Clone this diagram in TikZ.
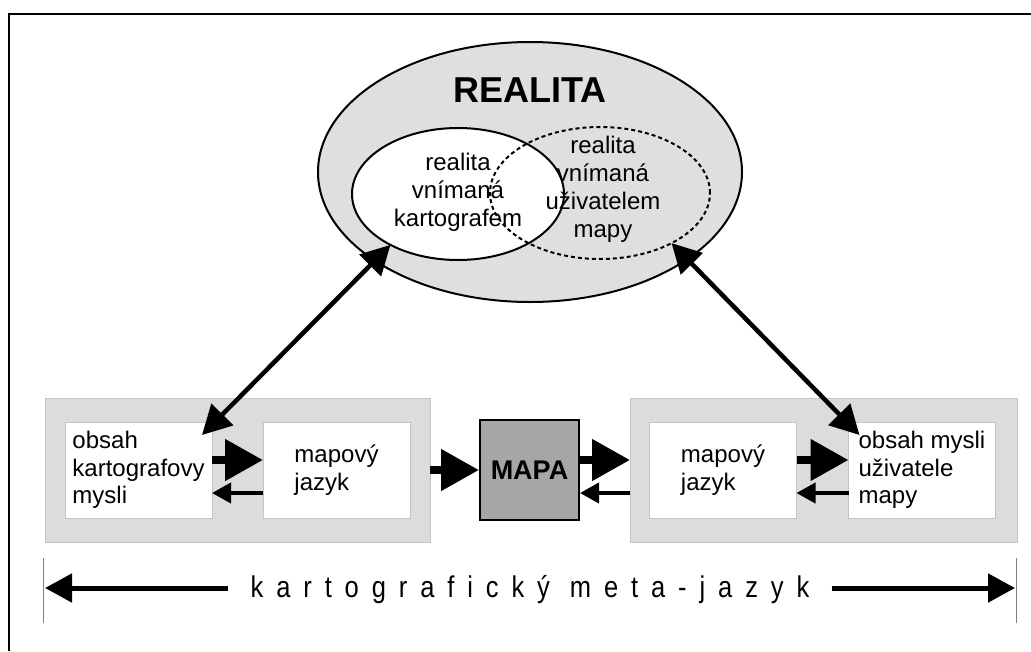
\documentclass[tikz,border=0pt]{standalone}
\usepackage{fontspec}
\setmainfont{Liberation Sans}
\newfontfamily\metafont[LetterSpace=43,FakeStretch=0.85]{Liberation Sans}
\usetikzlibrary{shapes.geometric,arrows.meta}
\definecolor{boxgray}{HTML}{DCDCDC}
\definecolor{edgegray}{HTML}{C4C4C4}
\definecolor{ellgray}{HTML}{DFDFDF}
\definecolor{mapgray}{HTML}{A6A6A6}

\begin{document}
\begin{tikzpicture}[
  x=1pt, y=-1pt,
  txt/.style={font=\fontsize{24}{28}\selectfont, align=center, inner sep=0pt},
  oval/.style={ellipse, draw, line width=2pt, inner sep=0pt, outer sep=0pt},
  graybox/.style={draw=edgegray, fill=boxgray, line width=1pt,
    minimum height=144pt, inner sep=0pt, outer sep=0pt},
  whitebox/.style={draw=edgegray, fill=white, line width=0.8pt,
    minimum width=147pt, minimum height=96pt, inner sep=0pt, outer sep=0pt,
    align=left, font=\fontsize{24}{27.6}\selectfont},
  bigarr/.style={line width=8pt, -{Triangle[length=38pt,width=40pt]}},
  backarr/.style={line width=4pt, -{Triangle[length=19pt,width=20pt]}},
  dblarr/.style={line width=4.5pt,
    {Triangle[length=29pt,width=30pt]}-{Triangle[length=29pt,width=30pt]}},
  metaarr/.style={line width=5pt, -{Triangle[length=27pt,width=28pt]}},
]
\useasboundingbox (0,0) rectangle (1031,651);
\draw[line width=2.5pt] (9,651) -- (9,14) -- (1031,14);

\node[oval, fill=ellgray, minimum width=424pt, minimum height=260pt] (real) at (530,172) {};
\node[oval, fill=white, minimum width=212pt, minimum height=132pt] (kart) at (458,194) {};
\node[oval, dash pattern=on 4pt off 3pt, minimum width=220pt, minimum height=132pt] (user) at (600,193) {};
\node[font=\bfseries\fontsize{36}{36}\selectfont] (title) at (530,90) {REALITA};
\node[txt] (kartlbl) at (458,192) {realita\\vnímaná\\kartografem};
\node[txt] (userlbl) at (603,189) {realita\\vnímaná\\uživatelem\\mapy};

\node[graybox, minimum width=385pt] (grayL) at (237.5,470) {};
\node[graybox, minimum width=387pt] (grayR) at (823.5,470) {};
\node[whitebox] (obs1) at (138.5,470) {obsah\\kartografovy\\mysli};
\node[whitebox] (jaz1) at (336.5,470) {mapový\\jazyk};
\node[whitebox] (jaz2) at (723,470) {mapový\\jazyk};
\node[whitebox] (obs2) at (922,470) {obsah mysli\\uživatele\\mapy};
\node[draw, line width=2pt, fill=mapgray, minimum width=99pt, minimum height=100pt,
  inner sep=0pt, font=\bfseries\fontsize{27}{27}\selectfont] (mapa) at (529.5,470) {MAPA};

\draw[bigarr] ([yshift=10pt]obs1.east) -- ([yshift=10pt]jaz1.west);
\draw[backarr] ([yshift=-23pt]jaz1.west) -- ([yshift=-23pt]obs1.east);
\draw[bigarr] (grayL.east) -- (mapa.west);
\draw[bigarr] ([yshift=10pt]mapa.east) -- ([yshift=10pt]grayR.west);
\draw[backarr] ([yshift=-23pt]grayR.west) -- ([yshift=-23pt]mapa.east);
\draw[bigarr] ([yshift=10pt]jaz2.east) -- ([yshift=10pt]obs2.west);
\draw[backarr] ([yshift=-23pt]obs2.west) -- ([yshift=-23pt]jaz2.east);

\draw[dblarr] (kart.217) -- ([shift={(-10,13)}]obs1.north east);
\draw[dblarr] (user.-35) -- ([shift={(11,13)}]obs2.north west);

\draw[gray, line width=1pt] (43,558) -- (43,623);
\draw[gray, line width=1pt] (1016,558) -- (1016,623);
\coordinate (endL) at (45,588);
\coordinate (endR) at (1015,588);
\node[anchor=base, inner xsep=22pt, font=\metafont\fontsize{30}{30}\selectfont] (meta) at (530,597)
  {kartografický meta-jazyk};
\draw[metaarr] (meta.west |- endL) -- (endL);
\draw[metaarr] (meta.east |- endR) -- (endR);
\end{tikzpicture}
\end{document}
